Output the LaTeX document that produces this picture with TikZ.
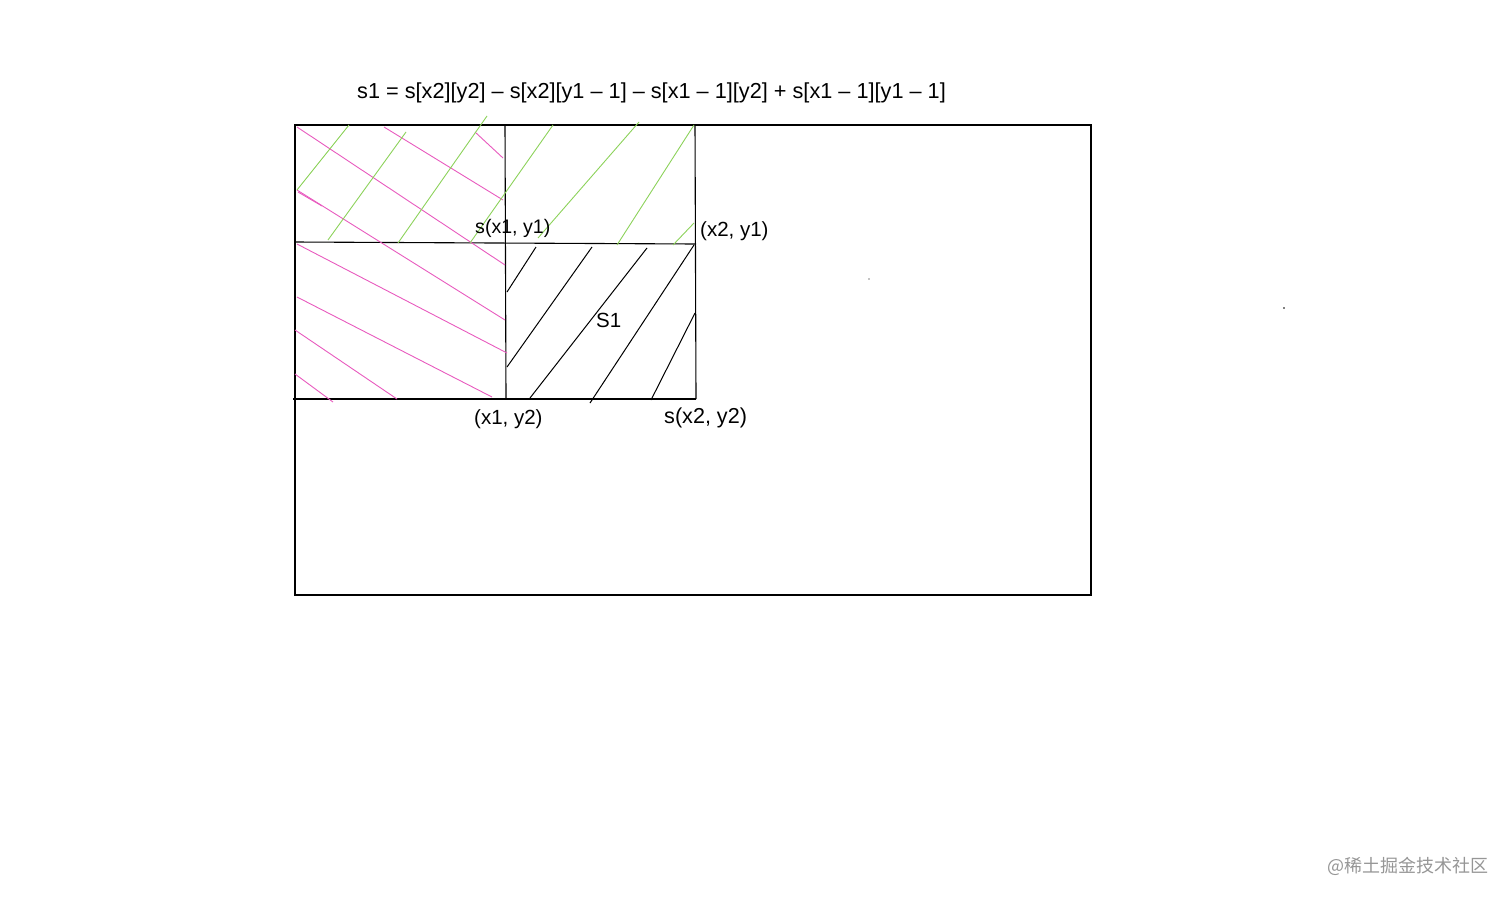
\documentclass[tikz,border=0pt]{standalone}
\usepackage{fontspec}
\setmainfont{Liberation Sans}
\newfontfamily\cjkfont{Noto Sans CJK SC}
\definecolor{hpink}{RGB}{232,90,190}
\definecolor{hgreen}{RGB}{140,210,90}
\definecolor{wmgrey}{RGB}{150,150,150}
\begin{document}
\begin{tikzpicture}[x=1pt,y=-1pt,
  frame/.style={draw=black,line width=1.1pt},
  pinkh/.style={draw=hpink,line width=0.9pt},
  greenh/.style={draw=hgreen,line width=0.9pt},
  blackh/.style={draw=black,line width=1pt},
  lbl/.style={font=\fontsize{20.5}{22}\selectfont,inner sep=0pt,anchor=west}]
\useasboundingbox (0,0) rectangle (1512,900);
% outer frame
\coordinate (A) at (295,125);
\coordinate (B) at (1091,595);
\draw[frame] (A) rectangle (B);
% inner lines
\coordinate (v1t) at (505,125); \coordinate (v1b) at (506,399);
\coordinate (v2t) at (695,125); \coordinate (v2b) at (696,399);
\coordinate (h1l) at (295,242); \coordinate (h1r) at (696,244);
\coordinate (h2l) at (293,399); \coordinate (h2r) at (696,399);
\draw[frame] (v1t) -- (v1b);
\draw[frame] (v2t) -- (v2b);
\draw[frame] (h1l) -- (h1r);
\draw[frame] (h2l) -- (h2r);
% pink hatching
\draw[pinkh] (297,127) -- (505,265);
\draw[pinkh] (384,127) -- (503,200);
\draw[pinkh] (475,132) -- (503,158);
\draw[pinkh] (297,190) -- (505,320);
\draw[pinkh] (298,192) -- (322,206);
\draw[pinkh] (297,244) -- (507,353);
\draw[pinkh] (297,297) -- (492,397);
\draw[pinkh] (295,330) -- (397,399);
\draw[pinkh] (295,374) -- (333,402);
% green hatching
\draw[greenh] (349,125) -- (297,190);
\draw[greenh] (406,132) -- (328,240);
\draw[greenh] (487,116) -- (398,243);
\draw[greenh] (553,125) -- (470,243);
\draw[greenh] (639,122) -- (538,238);
\draw[greenh] (694,125) -- (617,245);
\draw[greenh] (694,223) -- (673,245);
% black hatching
\draw[blackh] (536,247) -- (507,292);
\draw[blackh] (592,247) -- (507,367);
\draw[blackh] (647,248) -- (530,398);
\draw[blackh] (694,245) -- (590,403);
\draw[blackh] (695,313) -- (651,400);
% labels
\node[lbl,font=\fontsize{21.7}{24}\selectfont] (f) at (357,93) {s1 = s[x2][y2] – s[x2][y1 – 1] – s[x1 – 1][y2] + s[x1 – 1][y1 – 1]};
\node[lbl,font=\fontsize{19.6}{22}\selectfont] (p11) at (475,228) {s(x1, y1)};
\node[lbl] (p21) at (700,231) {(x2, y1)};
\node[lbl] (s1) at (596,320) {S1};
\node[lbl] (p12) at (474,419) {(x1, y2)};
\node[lbl,font=\fontsize{21.6}{24}\selectfont] (p22) at (664,418) {s(x2, y2)};
\fill (869,279) circle (0.7);
\fill (1284,308) circle (0.9);
\node[anchor=west,inner sep=0pt,text=wmgrey,font=\cjkfont\fontsize{18}{20}\selectfont] (wm) at (1327,866) {@稀土掘金技术社区};
\end{tikzpicture}
\end{document}
